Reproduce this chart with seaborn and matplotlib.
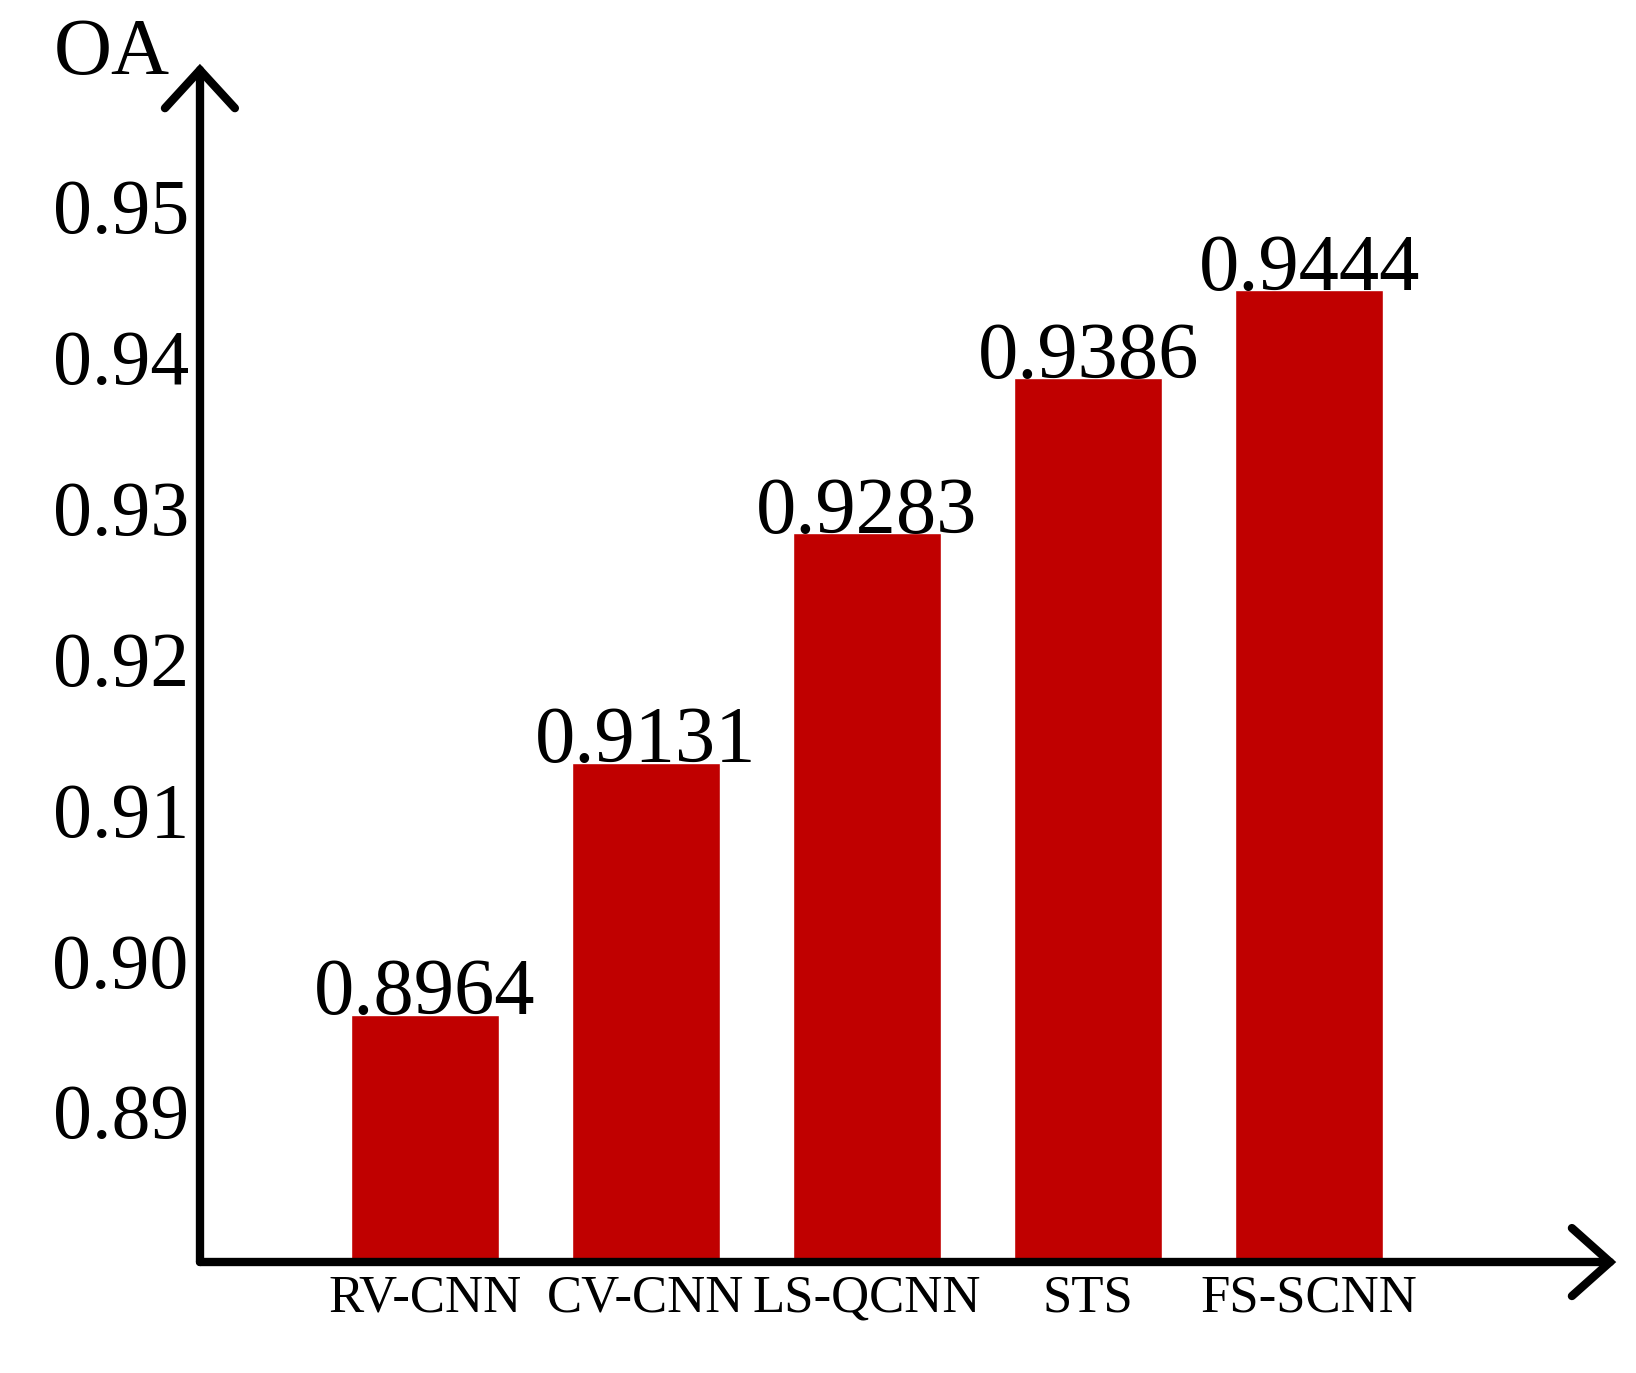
import numpy as np
import pandas as pd
import matplotlib
matplotlib.use('Agg')
import matplotlib.pyplot as plt
import seaborn as sns

methods = ['RV-CNN', 'CV-CNN', 'LS-QCNN', 'STS', 'FS-SCNN']
oa_values = [0.8964, 0.9131, 0.9283, 0.9386, 0.9444]
y_ticks = [0.89, 0.90, 0.91, 0.92, 0.93, 0.94, 0.95]
bar_color = '#C00000'

sns.set_style('white')
plt.rcParams['font.family'] = ['Liberation Serif', 'DejaVu Serif']
plt.rcParams['text.color'] = 'black'

df = pd.DataFrame({'Method': methods, 'OA': oa_values})

fig = plt.figure(figsize=(16.36, 13.73), dpi=100)
ax = fig.add_axes([0.1222, 0.0808, 0.8619, 0.8682])

sns.barplot(data=df, x='Method', y='OA', color=bar_color, saturation=1,
            width=0.67, ax=ax)

ax.set_ylim(0.88, 0.959)
ax.set_xlim(-1.016, 5.36)
ax.set_yticks(y_ticks)
ax.set_yticklabels([f'{t:.2f}' for t in y_ticks])
ax.set_xlabel('')
ax.set_ylabel('')

# value labels on top of bars
ax.bar_label(ax.containers[0], labels=[f'{v:.4f}' for v in oa_values],
             padding=-12, fontsize=58, color='black')

# axes: only left & bottom, thick, with open arrowheads
for s in ['top', 'right']:
    ax.spines[s].set_visible(False)
for s in ['left', 'bottom']:
    ax.spines[s].set_linewidth(6)
    ax.spines[s].set_color('black')
    ax.spines[s].set_capstyle('round')

ax.tick_params(axis='y', direction='in', length=24, width=6, pad=8,
               labelsize=56, colors='black')
ax.tick_params(axis='x', length=0, pad=9, labelsize=38, colors='black')

arrow_kw = dict(color='black', lw=6, solid_capstyle='round',
                solid_joinstyle='miter', transform=ax.transAxes, clip_on=False)
# y axis arrowhead
ax.plot([-0.0248, 0, 0.0248], [1 - 0.032, 1, 1 - 0.032], **arrow_kw)
# x axis arrowhead
ax.plot([1 - 0.027, 1, 1 - 0.027], [0.0285, 0, -0.0285], **arrow_kw)

ax.text(-0.104, 0.982, 'OA', transform=ax.transAxes, fontsize=58,
        ha='left', va='bottom', color='black')

fig.savefig('out.png', dpi=100, facecolor='white')
